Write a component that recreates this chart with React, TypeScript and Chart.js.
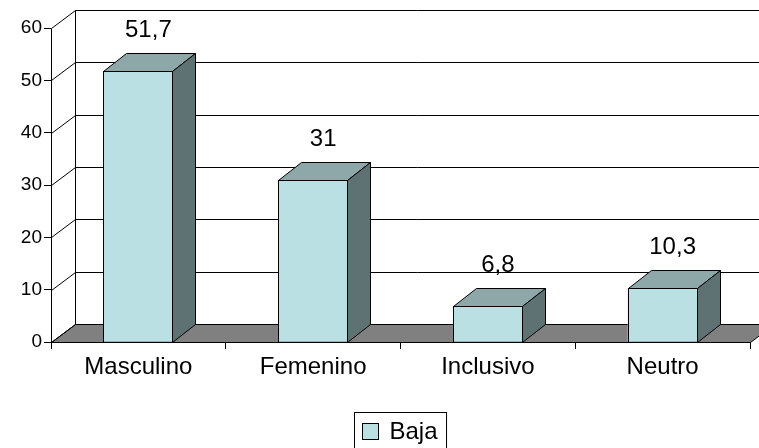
import React, { useEffect, useRef } from "react";
import { Chart, registerables } from "chart.js";

Chart.register(...registerables);

const categories = ["Masculino", "Femenino", "Inclusivo", "Neutro"];
const seriesName = "Baja";
const values = [51.7, 31, 6.8, 10.3];
const yTicks = [0, 10, 20, 30, 40, 50, 60];

const FONT = "'Liberation Sans', Arial, Helvetica, sans-serif";
const FRONT = "rgb(187,224,227)";
const TOP = "rgb(142,168,170)";
const SIDE = "rgb(95,114,115)";
const FLOOR = "rgb(128,128,128)";

const WALL_DX = 24;
const WALL_DY = -18;
const BAR_DX = 23;
const BAR_DY = -18;

const fmt = (v: number) => String(v).replace(".", ",");

const threeD = {
  id: "threeD",
  beforeDatasetsDraw(chart: any) {
    const { ctx, chartArea } = chart;
    const ys = chart.scales.y;
    const L = chartArea.left;
    const R = chartArea.right;
    ctx.save();
    ctx.lineWidth = 1;
    ctx.strokeStyle = "#000";
    // floor
    const y0 = Math.round(ys.getPixelForValue(0)) + 0.5;
    ctx.beginPath();
    ctx.moveTo(L + 0.5, y0);
    ctx.lineTo(L + 0.5 + WALL_DX, y0 + WALL_DY);
    ctx.lineTo(R + 0.5 + WALL_DX, y0 + WALL_DY);
    ctx.lineTo(R + 0.5, y0);
    ctx.closePath();
    ctx.fillStyle = FLOOR;
    ctx.fill();
    ctx.stroke();
    // walls
    const yMaxB = Math.round(ys.getPixelForValue(yTicks[yTicks.length - 1])) + 0.5 + WALL_DY;
    ctx.beginPath();
    ctx.moveTo(L + 0.5 + WALL_DX, yMaxB);
    ctx.lineTo(L + 0.5 + WALL_DX, y0 + WALL_DY);
    ctx.stroke();
    for (const t of yTicks) {
      const yp = Math.round(ys.getPixelForValue(t)) + 0.5;
      ctx.beginPath();
      ctx.moveTo(L + 0.5, yp);
      ctx.lineTo(L + 0.5 + WALL_DX, yp + WALL_DY);
      ctx.lineTo(R + 0.5 + WALL_DX + 40, yp + WALL_DY);
      ctx.stroke();
    }
    // front y axis line
    ctx.beginPath();
    ctx.moveTo(L + 0.5, Math.round(ys.getPixelForValue(yTicks[yTicks.length - 1])) + 0.5);
    ctx.lineTo(L + 0.5, y0);
    ctx.stroke();
    ctx.restore();
  },
  afterDatasetsDraw(chart: any) {
    const { ctx } = chart;
    const meta = chart.getDatasetMeta(0);
    ctx.save();
    ctx.lineWidth = 1;
    ctx.strokeStyle = "#000";
    meta.data.forEach((bar: any, i: number) => {
      const l = Math.round(bar.x - bar.width / 2) + 0.5;
      const r = Math.round(bar.x + bar.width / 2) - 0.5;
      const t = Math.round(bar.y) + 0.5;
      const b = Math.round(bar.base) + 0.5;
      // top face
      ctx.beginPath();
      ctx.moveTo(l, t);
      ctx.lineTo(l + BAR_DX, t + BAR_DY);
      ctx.lineTo(r + BAR_DX, t + BAR_DY);
      ctx.lineTo(r, t);
      ctx.closePath();
      ctx.fillStyle = TOP;
      ctx.fill();
      ctx.stroke();
      // side face
      ctx.beginPath();
      ctx.moveTo(r, t);
      ctx.lineTo(r + BAR_DX, t + BAR_DY);
      ctx.lineTo(r + BAR_DX, b + BAR_DY);
      ctx.lineTo(r, b);
      ctx.closePath();
      ctx.fillStyle = SIDE;
      ctx.fill();
      ctx.stroke();
      // front outline
      ctx.strokeRect(l, t, r - l, b - t);
      // label
      ctx.fillStyle = "#000";
      ctx.font = `24px ${FONT}`;
      ctx.textAlign = "center";
      ctx.textBaseline = "alphabetic";
      ctx.fillText(fmt(values[i]), bar.x + 10, bar.y - 34);
    });
    ctx.restore();
  },
  afterDraw(chart: any) {
    const { ctx, chartArea } = chart;
    const cx = (chartArea.left + chartArea.right) / 2;
    ctx.save();
    ctx.font = `24px ${FONT}`;
    const tw = ctx.measureText(seriesName).width;
    const boxW = 8 + 16 + 11 + tw + 9;
    const bx = Math.round(cx - boxW / 2) + 0.5;
    const by = 412.5;
    ctx.fillStyle = "#fff";
    ctx.fillRect(bx, by, boxW, 60);
    ctx.strokeStyle = "#000";
    ctx.lineWidth = 1;
    ctx.strokeRect(bx, by, boxW, 60);
    ctx.fillStyle = FRONT;
    ctx.fillRect(bx + 8, 423.5, 16, 16);
    ctx.strokeRect(bx + 8, 423.5, 16, 16);
    ctx.fillStyle = "#000";
    ctx.textAlign = "left";
    ctx.textBaseline = "alphabetic";
    ctx.fillText(seriesName, bx + 8 + 16 + 11, 439);
    ctx.restore();
  },
};

export default function App() {
  const ref = useRef<HTMLCanvasElement | null>(null);
  useEffect(() => {
    if (!ref.current) return;
    const chart = new Chart(ref.current, {
      type: "bar",
      data: {
        labels: categories,
        datasets: [
          {
            label: seriesName,
            data: values,
            backgroundColor: FRONT,
            borderColor: "#000",
            borderWidth: 0,
            barPercentage: 0.4,
            categoryPercentage: 1,
          },
        ],
      },
      options: {
        responsive: false,
        animation: false,
        events: [],
        layout: { padding: { left: 0, right: 9, top: 28, bottom: 0 } },
        plugins: { legend: { display: false }, tooltip: { enabled: false } },
        scales: {
          x: {
            grid: {
              display: true,
              drawOnChartArea: false,
              drawTicks: true,
              tickLength: 7,
              color: "#000",
              offset: true,
            },
            border: { display: true, color: "#000", width: 1 },
            ticks: {
              color: "#000",
              font: { family: FONT, size: 24 },
              padding: 4,
              maxRotation: 0,
              autoSkip: false,
            },
            afterFit: (s: any) => {
              s.height = 106;
            },
          },
          y: {
            min: 0,
            max: 60,
            grid: {
              display: true,
              drawOnChartArea: false,
              drawTicks: true,
              tickLength: 7,
              color: "#000",
            },
            border: { display: false },
            ticks: {
              stepSize: 10,
              color: "#000",
              font: { family: FONT, size: 19 },
              padding: 2,
            },
            afterFit: (s: any) => {
              s.width = 51;
            },
          },
        },
      },
      plugins: [threeD],
    });
    return () => chart.destroy();
  }, []);
  return (
    <div style={{ position: "absolute", left: 0, top: 0, width: 759, height: 448, background: "#fff" }}>
      <canvas ref={ref} width={759} height={448} style={{ display: "block" }} />
    </div>
  );
}
